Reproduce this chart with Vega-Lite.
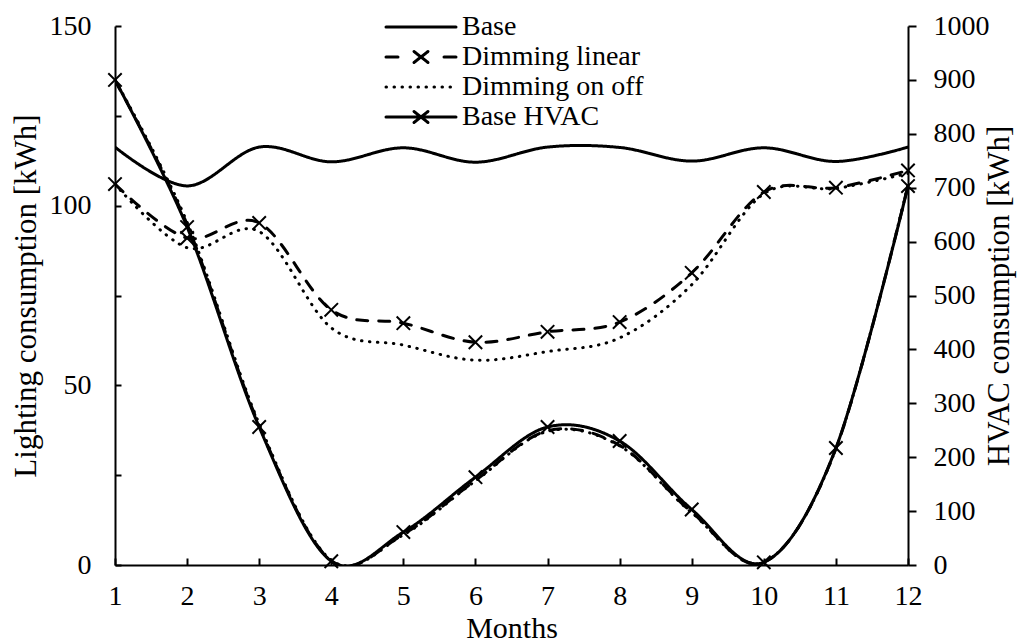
{
  "$schema": "https://vega.github.io/schema/vega-lite/v6.json",
  "width": 793,
  "height": 539,
  "autosize": {"type": "none"},
  "padding": {"left": 115, "top": 26, "right": 109, "bottom": 77},
  "background": "white",
  "config": {
    "view": {"stroke": null},
    "font": "Liberation Serif",
    "axis": {
      "labelFont": "Liberation Serif",
      "titleFont": "Liberation Serif",
      "labelFontSize": 28,
      "titleFontSize": 31,
      "titleFontWeight": "normal",
      "labelColor": "black",
      "titleColor": "black",
      "domainColor": "black",
      "tickColor": "black",
      "domainWidth": 2,
      "tickWidth": 2,
      "grid": false
    }
  },
  "datasets": {
    "lighting": [
      {"month": 1, "series": "Base", "style": "Base", "value": 116.3},
      {"month": 2, "series": "Base", "style": "Base", "value": 105.5},
      {"month": 3, "series": "Base", "style": "Base", "value": 116.3},
      {"month": 4, "series": "Base", "style": "Base", "value": 112.2},
      {"month": 5, "series": "Base", "style": "Base", "value": 116.1},
      {"month": 6, "series": "Base", "style": "Base", "value": 112.1},
      {"month": 7, "series": "Base", "style": "Base", "value": 116.3},
      {"month": 8, "series": "Base", "style": "Base", "value": 116.2},
      {"month": 9, "series": "Base", "style": "Base", "value": 112.4},
      {"month": 10, "series": "Base", "style": "Base", "value": 116.1},
      {"month": 11, "series": "Base", "style": "Base", "value": 112.3},
      {"month": 12, "series": "Base", "style": "Base", "value": 116.3},
      {"month": 1, "series": "Dimming linear", "style": "Dimming linear", "value": 106},
      {"month": 2, "series": "Dimming linear", "style": "Dimming linear", "value": 91},
      {"month": 3, "series": "Dimming linear", "style": "Dimming linear", "value": 95.2},
      {"month": 4, "series": "Dimming linear", "style": "Dimming linear", "value": 71},
      {"month": 5, "series": "Dimming linear", "style": "Dimming linear", "value": 67.3},
      {"month": 6, "series": "Dimming linear", "style": "Dimming linear", "value": 62},
      {"month": 7, "series": "Dimming linear", "style": "Dimming linear", "value": 64.9},
      {"month": 8, "series": "Dimming linear", "style": "Dimming linear", "value": 67.6},
      {"month": 9, "series": "Dimming linear", "style": "Dimming linear", "value": 81.3},
      {"month": 10, "series": "Dimming linear", "style": "Dimming linear", "value": 103.8},
      {"month": 11, "series": "Dimming linear", "style": "Dimming linear", "value": 105},
      {"month": 12, "series": "Dimming linear", "style": "Dimming linear", "value": 109.8},
      {"month": 1, "series": "Dimming on off", "style": "Dimming on off", "value": 106},
      {"month": 2, "series": "Dimming on off", "style": "Dimming on off", "value": 88.3},
      {"month": 3, "series": "Dimming on off", "style": "Dimming on off", "value": 92.8},
      {"month": 4, "series": "Dimming on off", "style": "Dimming on off", "value": 66},
      {"month": 5, "series": "Dimming on off", "style": "Dimming on off", "value": 61.2},
      {"month": 6, "series": "Dimming on off", "style": "Dimming on off", "value": 57},
      {"month": 7, "series": "Dimming on off", "style": "Dimming on off", "value": 59.4},
      {"month": 8, "series": "Dimming on off", "style": "Dimming on off", "value": 63.2},
      {"month": 9, "series": "Dimming on off", "style": "Dimming on off", "value": 78},
      {"month": 10, "series": "Dimming on off", "style": "Dimming on off", "value": 103.3},
      {"month": 11, "series": "Dimming on off", "style": "Dimming on off", "value": 104.8},
      {"month": 12, "series": "Dimming on off", "style": "Dimming on off", "value": 109}
    ],
    "hvac": [
      {"month": 1, "series": "Base HVAC", "style": "Base HVAC", "value": 900},
      {"month": 2, "series": "Base HVAC", "style": "Base HVAC", "value": 627},
      {"month": 3, "series": "Base HVAC", "style": "Base HVAC", "value": 256},
      {"month": 4, "series": "Base HVAC", "style": "Base HVAC", "value": 7},
      {"month": 5, "series": "Base HVAC", "style": "Base HVAC", "value": 61},
      {"month": 6, "series": "Base HVAC", "style": "Base HVAC", "value": 163},
      {"month": 7, "series": "Base HVAC", "style": "Base HVAC", "value": 256},
      {"month": 8, "series": "Base HVAC", "style": "Base HVAC", "value": 230},
      {"month": 9, "series": "Base HVAC", "style": "Base HVAC", "value": 103},
      {"month": 10, "series": "Base HVAC", "style": "Base HVAC", "value": 5},
      {"month": 11, "series": "Base HVAC", "style": "Base HVAC", "value": 217},
      {"month": 12, "series": "Base HVAC", "style": "Base HVAC", "value": 703},
      {"month": 1, "series": "Dimming linear HVAC", "style": "Dimming linear", "value": 899},
      {"month": 2, "series": "Dimming linear HVAC", "style": "Dimming linear", "value": 632},
      {"month": 3, "series": "Dimming linear HVAC", "style": "Dimming linear", "value": 259},
      {"month": 4, "series": "Dimming linear HVAC", "style": "Dimming linear", "value": 8},
      {"month": 5, "series": "Dimming linear HVAC", "style": "Dimming linear", "value": 57},
      {"month": 6, "series": "Dimming linear HVAC", "style": "Dimming linear", "value": 157},
      {"month": 7, "series": "Dimming linear HVAC", "style": "Dimming linear", "value": 249},
      {"month": 8, "series": "Dimming linear HVAC", "style": "Dimming linear", "value": 222},
      {"month": 9, "series": "Dimming linear HVAC", "style": "Dimming linear", "value": 98},
      {"month": 10, "series": "Dimming linear HVAC", "style": "Dimming linear", "value": 5},
      {"month": 11, "series": "Dimming linear HVAC", "style": "Dimming linear", "value": 216},
      {"month": 12, "series": "Dimming linear HVAC", "style": "Dimming linear", "value": 704},
      {"month": 1, "series": "Dimming on off HVAC", "style": "Dimming on off", "value": 900},
      {"month": 2, "series": "Dimming on off HVAC", "style": "Dimming on off", "value": 636},
      {"month": 3, "series": "Dimming on off HVAC", "style": "Dimming on off", "value": 262},
      {"month": 4, "series": "Dimming on off HVAC", "style": "Dimming on off", "value": 9},
      {"month": 5, "series": "Dimming on off HVAC", "style": "Dimming on off", "value": 56},
      {"month": 6, "series": "Dimming on off HVAC", "style": "Dimming on off", "value": 156},
      {"month": 7, "series": "Dimming on off HVAC", "style": "Dimming on off", "value": 248},
      {"month": 8, "series": "Dimming on off HVAC", "style": "Dimming on off", "value": 221},
      {"month": 9, "series": "Dimming on off HVAC", "style": "Dimming on off", "value": 97},
      {"month": 10, "series": "Dimming on off HVAC", "style": "Dimming on off", "value": 5},
      {"month": 11, "series": "Dimming on off HVAC", "style": "Dimming on off", "value": 216},
      {"month": 12, "series": "Dimming on off HVAC", "style": "Dimming on off", "value": 705}
    ]
  },
  "encoding": {
    "x": {
      "field": "month",
      "type": "quantitative",
      "scale": {"domain": [1, 12], "nice": false, "zero": false},
      "axis": {
        "title": "Months",
        "titleFontSize": 30,
        "values": [1, 2, 3, 4, 5, 6, 7, 8, 9, 10, 11, 12],
        "format": "d",
        "tickSize": -7,
        "labelPadding": 24,
        "labelFlush": false,
        "titleX": 396.5,
        "titleY": 72,
        "titleBaseline": "alphabetic",
        "titleAlign": "center"
      }
    }
  },
  "layer": [
    {
      "data": {"name": "lighting"},
      "encoding": {
        "y": {
          "field": "value",
          "type": "quantitative",
          "scale": {"domain": [0, 150], "nice": false},
          "axis": {
            "title": "Lighting consumption [kWh]",
            "orient": "left",
            "values": [0, 25, 50, 75, 100, 125, 150],
            "labelExpr": "datum.value % 50 === 0 ? datum.label : ''",
            "tickSize": -6,
            "labelPadding": 30,
            "titleX": -80,
            "titleY": 269.5,
            "titleAngle": 270,
            "titleBaseline": "alphabetic",
            "titleAlign": "center"
          }
        }
      },
      "layer": [
        {
          "mark": {"type": "line", "interpolate": "cardinal", "strokeWidth": 3, "strokeCap": "round", "clip": true},
          "encoding": {
            "strokeDash": {
              "field": "series",
              "type": "nominal",
              "scale": {
                "domain": ["Base", "Dimming linear", "Dimming on off", "Base HVAC", "Dimming linear HVAC", "Dimming on off HVAC"],
                "range": [[1, 0], [11, 11], [0.5, 7.5], [1, 0], [11, 11], [0.5, 7.5]]
              },
              "legend": null
            },
            "color": {
              "field": "style",
              "type": "nominal",
              "scale": {
                "domain": ["Base", "Dimming linear", "Dimming on off", "Base HVAC"],
                "range": ["black", "black", "black", "black"]
              },
              "legend": {
                "title": null,
                "orient": "none",
                "legendX": 270,
                "legendY": -13,
                "symbolSize": 400,
                "symbolStrokeWidth": 3,
                "labelFont": "Liberation Serif",
                "labelFontSize": 28,
                "labelColor": "black",
                "labelOffset": 27,
                "symbolOffset": 22,
                "rowPadding": 2,
                "padding": 0,
                "labelLimit": 400,
                "encode": {
                  "symbols": {
                    "update": {
                      "shape": {"signal": "datum.value === 'Dimming linear' ? 'M-3.5,0H-2.3M2.3,0H3.5M-0.7,-0.55L0.7,0.55M-0.7,0.55L0.7,-0.55' : (datum.value === 'Base HVAC' ? 'M-3.5,0H3.5M-0.7,-0.55L0.7,0.55M-0.7,0.55L0.7,-0.55' : 'M-3.5,0H3.5')"},
                      "strokeDash": {"signal": "datum.value === 'Dimming on off' ? [0.5, 7.5] : [1, 0]"},
                      "strokeCap": {"value": "round"},
                      "stroke": {"value": "black"}
                    }
                  }
                }
              }
            }
          }
        },
        {
          "transform": [{"filter": "datum.series === 'Dimming linear'"}],
          "mark": {"type": "point", "shape": "M-1,-1L1,1M-1,1L1,-1", "size": 180, "filled": false, "stroke": "black", "strokeWidth": 2, "opacity": 1}
        }
      ]
    },
    {
      "data": {"name": "hvac"},
      "encoding": {
        "y": {
          "field": "value",
          "type": "quantitative",
          "scale": {"domain": [0, 1000], "nice": false},
          "axis": {
            "title": "HVAC consumption [kWh]",
            "orient": "right",
            "values": [0, 100, 200, 300, 400, 500, 600, 700, 800, 900, 1000],
            "format": "d",
            "tickSize": 8,
            "labelPadding": 17,
            "titleX": 100,
            "titleY": 269.5,
            "titleAngle": 270,
            "titleBaseline": "alphabetic",
            "titleAlign": "center"
          }
        }
      },
      "layer": [
        {
          "mark": {"type": "line", "interpolate": "cardinal", "strokeWidth": 3, "strokeCap": "round", "clip": true},
          "encoding": {
            "strokeDash": {
              "field": "series",
              "type": "nominal",
              "scale": {
                "domain": ["Base", "Dimming linear", "Dimming on off", "Base HVAC", "Dimming linear HVAC", "Dimming on off HVAC"],
                "range": [[1, 0], [11, 11], [0.5, 7.5], [1, 0], [11, 11], [0.5, 7.5]]
              },
              "legend": null
            },
            "color": {
              "field": "style",
              "type": "nominal",
              "scale": {
                "domain": ["Base", "Dimming linear", "Dimming on off", "Base HVAC"],
                "range": ["black", "black", "black", "black"]
              }
            }
          }
        },
        {
          "transform": [{"filter": "datum.series === 'Base HVAC'"}],
          "mark": {"type": "point", "shape": "M-1,-1L1,1M-1,1L1,-1", "size": 180, "filled": false, "stroke": "black", "strokeWidth": 2, "opacity": 1}
        }
      ]
    }
  ],
  "resolve": {"scale": {"y": "independent"}}
}
